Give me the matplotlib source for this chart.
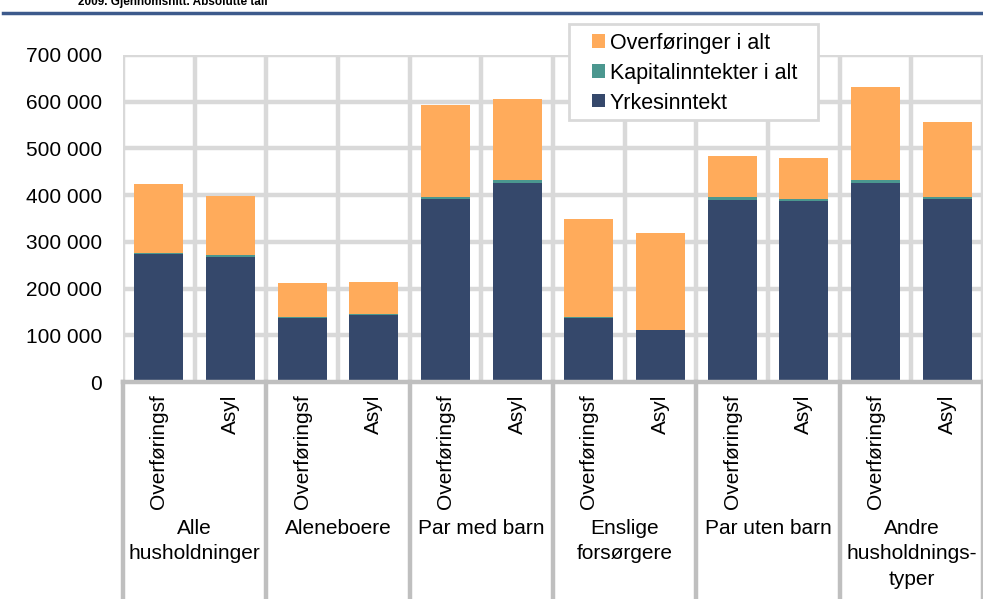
import numpy as np
import matplotlib
matplotlib.use("Agg")
import matplotlib.pyplot as plt
from matplotlib.lines import Line2D
from matplotlib.patches import Rectangle

plt.rcParams['font.family'] = ['Liberation Sans', 'DejaVu Sans']

# data (kroner, average per household, 2009)
groups = ["Alle\nhusholdninger", "Aleneboere", "Par med barn", "Enslige\nforsørgere",
          "Par uten barn", "Andre\nhusholdnings-\ntyper"]
bar_labels = ["Overføringsf", "Asyl"] * 6
yrkes = [273000, 268000, 138000, 143000, 392000, 425000,
         137000, 111000, 389000, 387000, 426000, 391000]
kapital = [3000, 4000, 2000, 3000, 3000, 8000,
           2000, 1000, 6000, 4000, 7000, 6000]
overf = [147000, 127000, 72000, 67000, 197000, 173000,
         210000, 208000, 89000, 89000, 198000, 160000]
yticks = [0, 100000, 200000, 300000, 400000, 500000, 600000, 700000]
series_names = ["Overføringer i alt", "Kapitalinntekter i alt", "Yrkesinntekt"]

c_yrkes = '#35486b'
c_kap = '#4b978f'
c_overf = '#ffab5b'
grid_c = '#d9d9d9'
axis_c = '#bfbfbf'

W, H = 983, 599
fig = plt.figure(figsize=(W / 100, H / 100), dpi=100)
ax = fig.add_axes([123/W, 1 - 382/H, 860/W, 327/H])

x = np.arange(len(yrkes))
w = 0.68
ax.bar(x, yrkes, w, color=c_yrkes, zorder=3)
ax.bar(x, kapital, w, bottom=yrkes, color=c_kap, zorder=3)
ax.bar(x, overf, w, bottom=np.array(yrkes) + np.array(kapital), color=c_overf, zorder=3)

ax.set_xlim(-0.5, len(x) - 0.5)
ax.set_ylim(0, 700000)

# grid: horizontal at ticks, vertical between every bar
for yv in yticks[1:]:
    ax.axhline(yv, color=grid_c, lw=3.2, zorder=1)
for xv in np.arange(-0.5, len(x), 1.0):
    ax.axvline(xv, color=grid_c, lw=3.2, zorder=1)

for s in ax.spines.values():
    s.set_visible(False)
ax.axhline(0, color=axis_c, lw=3.2, zorder=4, clip_on=False)

ax.set_yticks(yticks)
ax.set_yticklabels([f"{v:,}".replace(",", " ") for v in yticks], fontsize=15)
ax.tick_params(axis='y', length=0, pad=15)
ax.set_xticks(x)
ax.set_xticklabels(bar_labels, rotation=90, fontsize=15, va='top', ha='center')
ax.tick_params(axis='x', length=0, pad=9)

# category table below the axis
trans = ax.get_xaxis_transform()
for xv in np.arange(-0.5, len(x), 2.0):
    ax.plot([xv, xv], [0, -0.75], color=axis_c, lw=3.2, transform=trans, clip_on=False)
for i, g in enumerate(groups):
    ax.text(2 * i + 0.5, -0.42, g, transform=trans, ha='center', va='top',
            fontsize=15, linespacing=1.41)

# legend box, drawn by hand
fig.add_artist(Rectangle((569/W, 1 - 120/H), 249/W, 96/H, transform=fig.transFigure,
                         facecolor='white', edgecolor=grid_c, lw=2, zorder=5))
for k, (name, col) in enumerate(zip(series_names, [c_overf, c_kap, c_yrkes])):
    yc = 41 + 30 * k
    fig.add_artist(Rectangle((592/W, 1 - (yc + 6.5)/H), 13/W, 13/H,
                             transform=fig.transFigure, facecolor=col,
                             edgecolor='none', zorder=6))
    fig.text(610/W, 1 - yc/H, name, fontsize=15.5, ha='left', va='center_baseline',
             zorder=6)

# cut-off title and rule at top
fig.text(78/W, 1 - 5/H, "2009. Gjennomsnitt. Absolutte tall", fontsize=8.5,
         fontweight='bold', ha='left', va='baseline')
fig.add_artist(Line2D([3/W, 1], [1 - 13/H, 1 - 13/H], color='#3d5a8c', lw=2.5))

fig.savefig("out.png", dpi=100)
